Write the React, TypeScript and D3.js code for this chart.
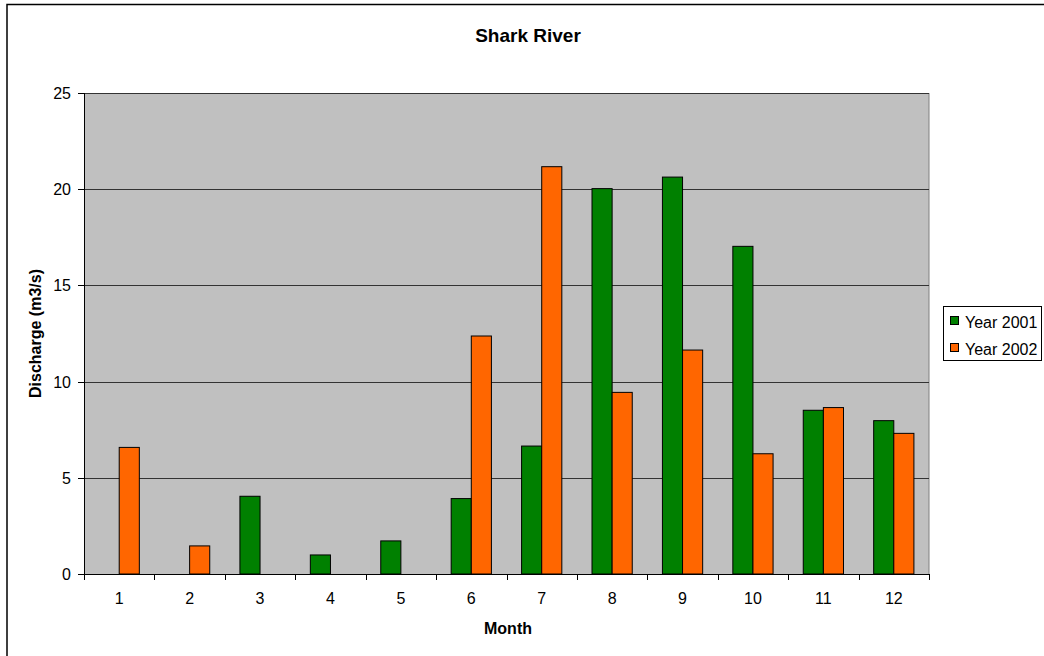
import React from "react";
import * as d3 from "d3";

const months = ["1", "2", "3", "4", "5", "6", "7", "8", "9", "10", "11", "12"];
const year2001 = [0, 0, 4.04, 0.99, 1.72, 3.92, 6.65, 20.03, 20.63, 17.03, 8.51, 7.97];
const year2002 = [6.58, 1.46, 0, 0, 0, 12.37, 21.17, 9.44, 11.64, 6.25, 8.65, 7.31];
const yTicks = [0, 5, 10, 15, 20, 25];
const seriesNames = ["Year 2001", "Year 2002"];
const seriesColors = ["#008000", "#FF6600"];

const W = 1044;
const H = 656;
const plot = { left: 84, right: 929, top: 93, bottom: 574 };
const font = "'Liberation Sans', Arial, sans-serif";

export default function App() {
  const x = d3
    .scaleBand<string>()
    .domain(months)
    .range([plot.left, plot.right])
    .paddingInner(0)
    .paddingOuter(0);
  const y = d3.scaleLinear().domain([0, 25]).range([plot.bottom, plot.top]);
  const bw = x.bandwidth() / 3.5; // gap width 150%
  const series = [year2001, year2002];

  return (
    <svg
      width={W}
      height={H}
      style={{ position: "absolute", left: 0, top: 0, background: "#fff" }}
      fontFamily={font}
    >
      <rect x={7} y={4.5} width={1100} height={700} fill="#fff" stroke="#000" strokeWidth={1.5} />
      <text x={528} y={42} textAnchor="middle" fontSize={19} fontWeight="bold">
        Shark River
      </text>

      <rect
        x={plot.left}
        y={plot.top}
        width={plot.right - plot.left}
        height={plot.bottom - plot.top}
        fill="#C0C0C0"
      />
      <line x1={plot.right} x2={plot.right} y1={plot.top} y2={plot.bottom} stroke="#808080" strokeWidth={1} />
      {yTicks.filter((t) => t > 0).map((t) => (
        <line
          key={t}
          x1={plot.left}
          x2={plot.right}
          y1={Math.round(y(t)) + 0.5}
          y2={Math.round(y(t)) + 0.5}
          stroke="#333"
          strokeWidth={1}
        />
      ))}

      {series.map((vals, si) =>
        vals.map((v, i) =>
          v > 0 ? (
            <rect
              key={`${si}-${i}`}
              x={(x(months[i]) as number) + x.bandwidth() / 2 - bw + si * bw}
              y={y(v)}
              width={bw}
              height={y(0) - y(v)}
              fill={seriesColors[si]}
              stroke="#000"
              strokeWidth={1}
            />
          ) : null
        )
      )}

      {/* axes */}
      <line x1={plot.left + 0.5} x2={plot.left + 0.5} y1={plot.top} y2={plot.bottom} stroke="#000" />
      <line x1={plot.left} x2={plot.right} y1={plot.bottom + 0.5} y2={plot.bottom + 0.5} stroke="#000" />
      {yTicks.map((t) => (
        <g key={t}>
          <line
            x1={plot.left - 6}
            x2={plot.left}
            y1={Math.round(y(t)) + 0.5}
            y2={Math.round(y(t)) + 0.5}
            stroke="#000"
          />
          <text x={71} y={y(t) + 6} textAnchor="end" fontSize={16}>
            {t}
          </text>
        </g>
      ))}
      {d3.range(months.length + 1).map((i) => {
        const xx = Math.round(plot.left + i * x.step()) + 0.5;
        return <line key={i} x1={xx} x2={xx} y1={plot.bottom} y2={plot.bottom + 6} stroke="#000" />;
      })}
      {months.map((m) => (
        <text
          key={m}
          x={(x(m) as number) + x.bandwidth() / 2}
          y={604}
          textAnchor="middle"
          fontSize={16}
        >
          {m}
        </text>
      ))}
      <text x={508} y={634} textAnchor="middle" fontSize={16} fontWeight="bold">
        Month
      </text>
      <text
        transform={`translate(41,${(plot.top + plot.bottom) / 2}) rotate(-90)`}
        textAnchor="middle"
        fontSize={16}
        fontWeight="bold"
      >
        Discharge (m3/s)
      </text>

      {/* legend */}
      <rect x={943.5} y={306.5} width={98} height={54} fill="#fff" stroke="#000" />
      {seriesNames.map((name, i) => (
        <g key={name}>
          <rect
            x={950.5}
            y={316.5 + i * 27}
            width={8}
            height={8}
            fill={seriesColors[i]}
            stroke="#000"
          />
          <text x={965} y={327.5 + i * 27} fontSize={16}>
            {name}
          </text>
        </g>
      ))}
    </svg>
  );
}
